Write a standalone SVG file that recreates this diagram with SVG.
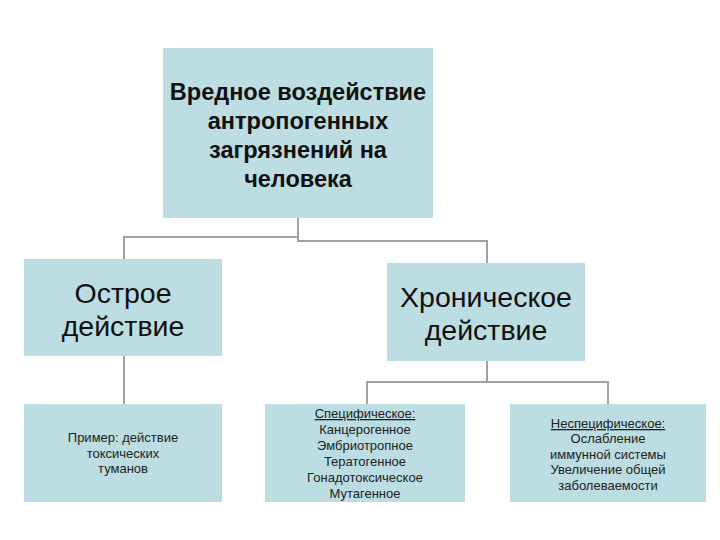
<svg xmlns="http://www.w3.org/2000/svg" width="720" height="540" viewBox="0 0 720 540">
<style>
.box{fill:#BCDDE1;}
.con{fill:none;stroke:#9CA3A3;stroke-width:2;}
.t{font-family:"Liberation Sans",Arial,sans-serif;fill:#111;text-anchor:middle;}
.b{font-size:23.5px;font-weight:bold;}
.m{font-size:28.5px;}
.s{font-size:13px;fill:#222;}
.u{text-decoration:underline;}
</style>
<rect width="720" height="540" fill="#fff"/>
<g id="connectors">
<polyline class="con" points="298,218 298,237 124,237 124,259"/>
<polyline class="con" points="298,237 298,241 487,241 487,263"/>
<line class="con" x1="124" y1="356" x2="124" y2="404"/>
<polyline class="con" points="487,361 487,382"/>
<polyline class="con" points="367,404 367,382 608,382 608,404"/>
</g>
<g id="root">
<rect class="box" x="163" y="48" width="270" height="170"/>
<text class="t b" x="298" y="100">Вредное воздействие</text>
<text class="t b" x="298" y="129">антропогенных</text>
<text class="t b" x="298" y="158">загрязнений на</text>
<text class="t b" x="298" y="187">человека</text>
</g>
<g id="acute">
<rect class="box" x="24" y="259" width="198" height="97"/>
<text class="t m" x="123" y="303">Острое</text>
<text class="t m" x="123" y="336">действие</text>
</g>
<g id="chronic">
<rect class="box" x="387" y="263" width="198" height="98"/>
<text class="t m" x="486" y="307">Хроническое</text>
<text class="t m" x="486" y="340">действие</text>
</g>
<g id="example">
<rect class="box" x="24" y="404" width="198" height="98"/>
<text class="t s" x="123" y="442">Пример: действие</text>
<text class="t s" x="123" y="458">токсических</text>
<text class="t s" x="123" y="473">туманов</text>
</g>
<g id="specific">
<rect class="box" x="265" y="404" width="200" height="98"/>
<text class="t s u" x="365" y="418">Специфическое:</text>
<text class="t s" x="365" y="434">Канцерогенное</text>
<text class="t s" x="365" y="450">Эмбриотропное</text>
<text class="t s" x="365" y="466">Тератогенное</text>
<text class="t s" x="365" y="482">Гонадотоксическое</text>
<text class="t s" x="365" y="498">Мутагенное</text>
</g>
<g id="nonspecific">
<rect class="box" x="510" y="404" width="196" height="98"/>
<text class="t s u" x="608" y="428">Неспецифическое:</text>
<text class="t s" x="608" y="443">Ослабление</text>
<text class="t s" x="608" y="459">иммунной системы</text>
<text class="t s" x="608" y="474">Увеличение общей</text>
<text class="t s" x="608" y="490">заболеваемости</text>
</g>
</svg>
